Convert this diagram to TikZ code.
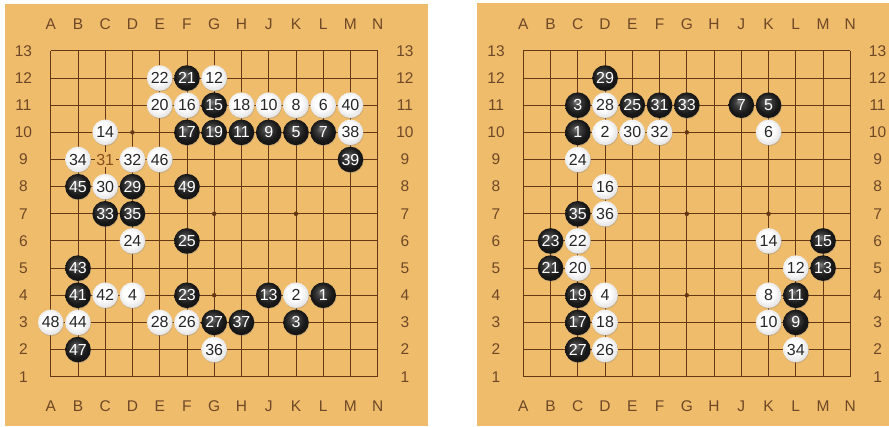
\documentclass[tikz,border=0pt]{standalone}
\usepackage{fontspec}
\setmainfont{Liberation Sans}
\usetikzlibrary{shadows}
\definecolor{wood}{RGB}{239,188,108}
\definecolor{gridbrown}{RGB}{100,56,20}
\definecolor{labelbrown}{RGB}{110,72,38}
\definecolor{captbrown}{RGB}{140,78,30}
\pgfdeclareradialshading{blackstone}{\pgfpoint{-5bp}{7bp}}{color(0bp)=(black!50); color(8bp)=(black!75); color(20bp)=(black!90); color(50bp)=(black)}
\pgfdeclareradialshading{whitestone}{\pgfpoint{-5bp}{6bp}}{color(0bp)=(white); color(14bp)=(white); color(26bp)=(black!10); color(32bp)=(black!28); color(50bp)=(black!28)}
\tikzset{
  board/.style={fill=wood},
  gridline/.style={draw=gridbrown,line width=0.9pt},
  hoshi/.style={circle,fill=gridbrown,inner sep=0pt,minimum size=4.5pt},
  coordlabel/.style={text=labelbrown,font=\fontsize{15.5}{17}\selectfont},
  stone/.style={circle,inner sep=0pt,minimum size=25.6pt,font=\fontsize{16}{18}\selectfont,
                drop shadow={shadow xshift=0.5pt,shadow yshift=-1pt,opacity=0.3}},
  bstone/.style={stone,shading=blackstone,text=white},
  wstone/.style={stone,shading=whitestone,text=black!85},
  movelabel/.style={fill=wood,inner sep=1.5pt,text=captbrown,font=\fontsize{16}{18}\selectfont},
}
\begin{document}
\begin{tikzpicture}[x=1pt,y=1pt]
  \useasboundingbox (0,0) rectangle (889,426);
  \fill[board] (5,0) rectangle (427.5,422);
  \fill[board] (477.3,0) rectangle (889,422.7);

  \foreach \side/\dx in {l/0,r/472.6} {
    \begin{scope}[shift={(50.7+\dx,49.3)},x=27.25pt,y=27.15pt,name prefix=\side-]
      \foreach \c [count=\i from 0] in {A,B,C,D,E,F,G,H,J,K,L,M,N} {
        \foreach \r in {1,...,13}
          \coordinate (\c\r) at (\i,\r-1);
        \node[coordlabel] (top-\c) at (\i,12.97) {\c};
        \node[coordlabel] (bot-\c) at (\i,-1.1) {\c};
      }
      \foreach \c in {A,B,C,D,E,F,G,H,J,K,L,M,N}
        \draw[gridline] (\c1) -- (\c13);
      \foreach \r in {1,...,13} {
        \draw[gridline] (A\r) -- (N\r);
        \node[coordlabel] (west-\r) at (-1,\r-1) {\r};
        \node[coordlabel] (east-\r) at (13,\r-1) {\r};
      }
      \foreach \p in {D4,D7,D10,G4,G7,G10,K4,K7,K10}
        \node[hoshi] (h\p) at (\p) {};
    \end{scope}
  }

  % left board
  \begin{scope}[name prefix=l-]
    \foreach \p/\n in {L4/1,K3/3,K10/5,L10/7,J10/9,H10/11,J4/13,G11/15,F10/17,G10/19,
                       F12/21,F4/23,F6/25,G3/27,D8/29,C7/33,D7/35,H3/37,M9/39,
                       B4/41,B5/43,B8/45,B2/47,F8/49}
      \node[bstone] (s\n) at (\p) {\n};
    \foreach \p/\n in {K4/2,D4/4,L11/6,K11/8,J11/10,G12/12,C10/14,F11/16,H11/18,E11/20,
                       E12/22,D6/24,F3/26,E3/28,C8/30,D9/32,B9/34,G2/36,M10/38,
                       M11/40,C4/42,B3/44,E9/46,A3/48}
      \node[wstone] (s\n) at (\p) {\n};
    \node[movelabel] (s31) at (C9) {31};
  \end{scope}

  % right board
  \begin{scope}[name prefix=r-]
    \foreach \p/\n in {C10/1,C11/3,K11/5,J11/7,L3/9,L4/11,M5/13,M6/15,C3/17,C4/19,
                       B5/21,B6/23,E11/25,C2/27,D12/29,F11/31,G11/33,C7/35}
      \node[bstone] (s\n) at (\p) {\n};
    \foreach \p/\n in {D10/2,D4/4,K10/6,K4/8,K3/10,L5/12,K6/14,D8/16,D3/18,C5/20,
                       C6/22,C9/24,D2/26,D11/28,E10/30,F10/32,L2/34,D7/36}
      \node[wstone] (s\n) at (\p) {\n};
  \end{scope}
\end{tikzpicture}
\end{document}
